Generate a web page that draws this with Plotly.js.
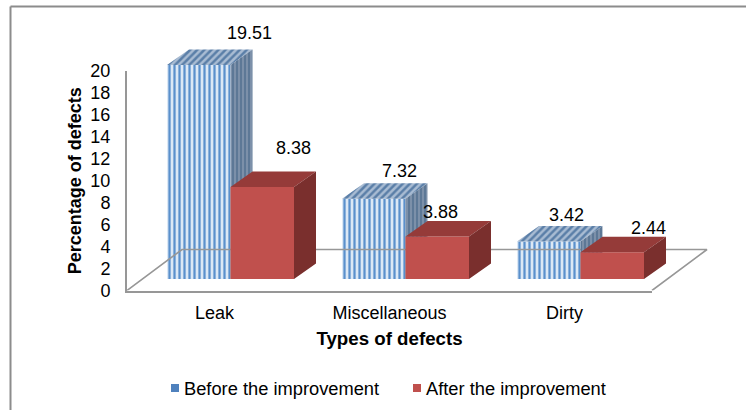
<!DOCTYPE html>
<html>
<head>
<meta charset="utf-8">
<script src="https://cdn.plot.ly/plotly-3.0.1.min.js"></script>
<style>html,body{margin:0;padding:0;background:#fff}</style>
</head>
<body>
<div id="chart" style="width:746px;height:410px"></div>
<script>
var categories = ["Leak", "Miscellaneous", "Dirty"];
var beforeValues = [19.51, 7.32, 3.42];
var afterValues = [8.38, 3.88, 2.44];
var yTicks = [0, 2, 4, 6, 8, 10, 12, 14, 16, 18, 20];
var seriesNames = ["Before the improvement", "After the improvement"];

// Drawing setup (pixels of the window)
var W = 746, H = 410;
var axisL = 127, axisR = 652, axisB = 290.5, axisT = 71, wideR = 717, wideT = 14;
var pxPerCat = (axisR - axisL) / categories.length;
var pxPerUnit = (axisB - axisT) / 20;
var font = "Liberation Sans, Arial, sans-serif";

var lift = 11.5 / pxPerUnit;           // bars stand forward on the floor
var depthX = 22 / pxPerCat, depthY = 15.5 / pxPerUnit;
var floorX = 55 / pxPerCat, floorY = 41 / pxPerUnit;
var blueOffset = -47.5 / pxPerCat, barW = 63.5 / pxPerCat;
var redOffset = blueOffset + barW;

function faces(values, offset, kind) {
  var xs = [], ys = [];
  values.forEach(function (v, i) {
    var l = i + offset, r = l + barW, t = v + lift;
    var px, py;
    if (kind === "top") {
      px = [l, r, r + depthX, l + depthX, l];
      py = [t, t, t + depthY, t + depthY, t];
    } else {
      px = [r, r + depthX, r + depthX, r, r];
      py = [t, t + depthY, lift + depthY, lift, t];
    }
    xs = xs.concat(px, [null]);
    ys = ys.concat(py, [null]);
  });
  return { x: xs, y: ys };
}

function face(values, offset, kind, axes, color, pattern) {
  var f = faces(values, offset, kind);
  var tr = {
    type: "scatter", mode: "lines", x: f.x, y: f.y, xaxis: axes[0], yaxis: axes[1],
    fill: "toself", fillcolor: color, line: { width: 0 }, hoverinfo: "skip", showlegend: false
  };
  if (pattern) tr.fillpattern = pattern;
  return tr;
}

var indices = categories.map(function (c, i) { return i; });
var xMin = -0.5;
var floorLine = {
  type: "scatter", mode: "lines", xaxis: "x2", yaxis: "y2",
  x: [xMin, xMin + floorX, categories.length - 0.5 + floorX, categories.length - 0.5],
  y: [0, floorY, floorY, 0],
  line: { color: "#979797", width: 1.6 }, hoverinfo: "skip", showlegend: false
};

var traces = [
  { type: "scatter", mode: "markers", x: [null], y: [null], name: seriesNames[0],
    marker: { symbol: "square", size: 8, color: "#4f81bd" } },
  { type: "scatter", mode: "markers", x: [null], y: [null], name: seriesNames[1],
    marker: { symbol: "square", size: 8, color: "#c0504d" } },
  floorLine,
  { type: "bar", x: indices, y: beforeValues, base: lift, offset: blueOffset, width: barW,
    xaxis: "x2", yaxis: "y2", showlegend: false, hoverinfo: "skip", cliponaxis: false,
    marker: { color: "#dce8f5", line: { width: 0 },
      pattern: { shape: "|", size: 5, solidity: 0.45, fgcolor: "#5a90cc", bgcolor: "#dce8f5" } } },
  face(beforeValues, blueOffset, "top", ["x2", "y2"], "#a9bcd3",
    { shape: "/", size: 5, solidity: 0.5, fgcolor: "#5b7fa8", bgcolor: "#a9bcd3" }),
  face(beforeValues, blueOffset, "side", ["x2", "y2"], "#7a8ea8",
    { shape: "|", size: 4, solidity: 0.55, fgcolor: "#5d7896", bgcolor: "#7f93ab" }),
  { type: "bar", x: indices, y: afterValues, base: lift, offset: redOffset, width: barW,
    xaxis: "x3", yaxis: "y3", showlegend: false, hoverinfo: "skip", cliponaxis: false,
    marker: { color: "#c0504d", line: { width: 0 } } },
  face(afterValues, redOffset, "top", ["x3", "y3"], "#953b39"),
  face(afterValues, redOffset, "side", ["x3", "y3"], "#7a2f2d")
];

// Data label placement relative to each bar's front top edge (pixels)
var beforeLabelShift = [[34.5, 32], [9.5, 28], [1.5, 26.5]];
var afterLabelShift = [[78.5, 39], [50.5, 24], [83.5, 24]];
var annotations = [];
function addLabels(values, shifts) {
  values.forEach(function (v, i) {
    annotations.push({
      xref: "x3", yref: "y3", x: i, y: v + lift, text: v.toFixed(2), showarrow: false,
      xshift: shifts[i][0], yshift: shifts[i][1], xanchor: "center", yanchor: "middle",
      font: { family: font, size: 18, color: "#000" }
    });
  });
}
addLabels(beforeValues, beforeLabelShift);
addLabels(afterValues, afterLabelShift);

var wideXRange = [xMin, xMin + (wideR - axisL) / pxPerCat];
var wideYRange = [0, (axisB - wideT) / pxPerUnit];
var wideXDomain = [axisL / W, wideR / W];
var wideYDomain = [(H - axisB) / H, (H - wideT) / H];
function hidden(range, domain, anchor, over) {
  var a = { range: range, domain: domain, anchor: anchor, visible: false, fixedrange: true };
  if (over) a.overlaying = over;
  return a;
}

var layout = {
  width: W, height: H, margin: { l: 0, r: 0, t: 0, b: 0 },
  paper_bgcolor: "#fff", plot_bgcolor: "rgba(0,0,0,0)", showlegend: true, dragmode: false,
  font: { family: font, color: "#000", size: 17 },
  xaxis: {
    domain: [axisL / W, axisR / W], range: [-0.5, 2.5], anchor: "y",
    tickmode: "array", tickvals: indices, ticktext: categories,
    showgrid: false, zeroline: false, showline: true, linecolor: "#979797", linewidth: 2,
    ticks: "", ticklabelstandoff: 5, tickfont: { family: font, size: 18 },
    title: { text: "<b>Types of defects</b>", standoff: 10, font: { family: font, size: 18.7 } }
  },
  yaxis: {
    domain: [(H - axisB) / H, (H - axisT) / H], range: [0, 20], anchor: "x",
    tickmode: "array", tickvals: yTicks,
    showgrid: false, zeroline: false, showline: true, linecolor: "#979797", linewidth: 2,
    ticks: "", ticklabelstandoff: 11, tickfont: { family: font, size: 18 },
    title: { text: "<b>Percentage of defects</b>", standoff: 4, font: { family: font, size: 18 } }
  },
  xaxis2: hidden(wideXRange, wideXDomain, "y2"),
  yaxis2: hidden(wideYRange, wideYDomain, "x2"),
  xaxis3: hidden(wideXRange, wideXDomain, "y3", "x2"),
  yaxis3: hidden(wideYRange, wideYDomain, "x3", "y2"),
  legend: {
    orientation: "h", x: 144 / W, xanchor: "left", y: (H - 388) / H, yanchor: "middle",
    bgcolor: "rgba(0,0,0,0)", font: { family: font, size: 18.3, color: "#000" },
    entrywidth: 197, entrywidthmode: "pixels", itemclick: false, itemdoubleclick: false
  },
  annotations: annotations,
  shapes: [
    { type: "line", xref: "paper", yref: "paper", x0: 10.5 / W, y0: 0, x1: 10.5 / W, y1: (H - 6.5) / H,
      line: { color: "#8c8c8c", width: 2 } },
    { type: "line", xref: "paper", yref: "paper", x0: 10.5 / W, y0: (H - 6.5) / H, x1: 1, y1: (H - 6.5) / H,
      line: { color: "#8c8c8c", width: 2 } }
  ]
};

Plotly.newPlot("chart", traces, layout, { displayModeBar: false, staticPlot: true }).then(function (gd) {
  // Set the legend swatches closer to their texts, as in the reference
  gd.querySelectorAll(".legend .legendpoints").forEach(function (el) {
    el.setAttribute("transform", "translate(11,0)");
  });
});
</script>
</body>
</html>
